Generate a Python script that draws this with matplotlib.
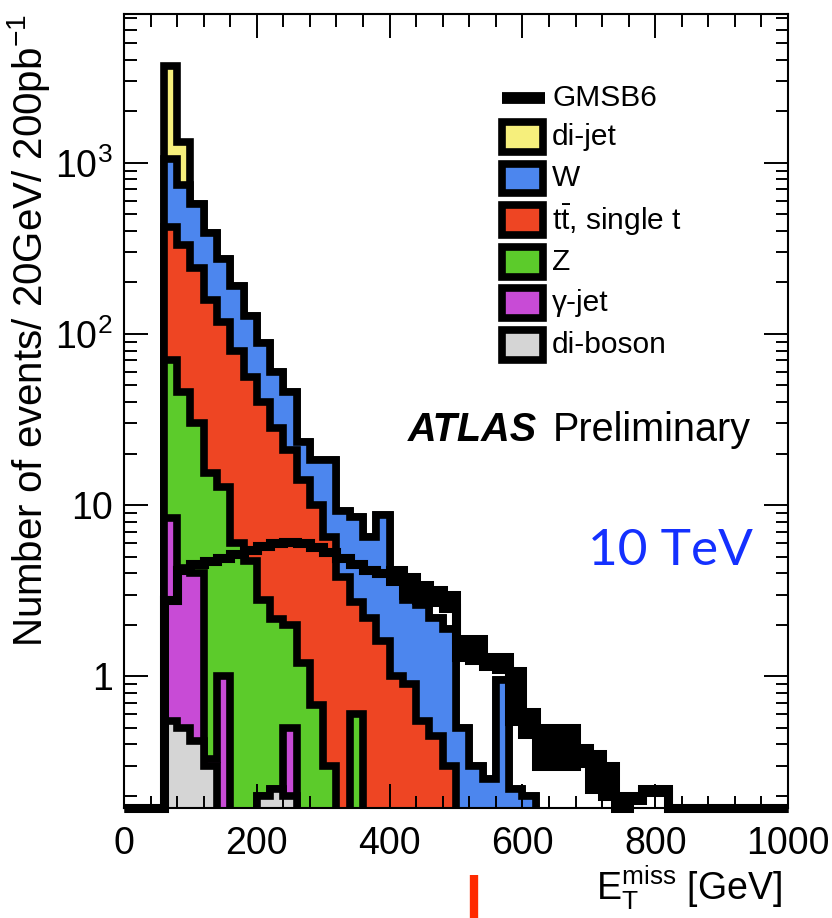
import numpy as np
import matplotlib
matplotlib.use("Agg")
import matplotlib.pyplot as plt
import matplotlib.transforms as mtransforms
from matplotlib.patches import Rectangle
from matplotlib.lines import Line2D
from matplotlib.ticker import (MultipleLocator, LogLocator, FixedLocator,
                               FixedFormatter, NullFormatter)

plt.rcParams["font.family"] = ["Liberation Sans", "DejaVu Sans"]
plt.rcParams["mathtext.fontset"] = "custom"
plt.rcParams["mathtext.rm"] = "Liberation Sans"
plt.rcParams["mathtext.it"] = "Liberation Sans:italic"
plt.rcParams["mathtext.bf"] = "Liberation Sans:bold"

# 20 GeV bins from 0 to 1000 GeV; every series below starts at the 60 GeV bin
bin_edges = np.arange(0, 1001, 20)
series_start = 60

# Standard Model backgrounds (events / 20 GeV / 200 pb^-1)
diboson = [0.55, 0.5, 0.42, 0.3, 0, 0, 0, 0.2, 0.22, 0.2]
gamma_jet = [7.85, 3.8, 3.6, 0.03, 1.0, 0, 0, 0, 0, 0.3]
z_jets = [61.6, 41.7, 26, 15.0, 11.7, 6.0, 4.7, 2.6, 1.93, 1.5,
          1.2, 0.68, 0.3, 0, 0.6]
top = [354, 285, 213, 142, 105, 74, 51, 37, 26, 19,
       12.8, 9.3, 6.2, 3.8, 2.1, 2.2, 1.6, 1.0, 0.9, 0.55,
       0.45, 0.3]
w_jets = [626, 409, 332, 233, 158, 110, 72, 49, 32, 25,
          9.5, 8.3, 11.8, 5.5, 5.8, 4.3, 7.1, 3.0, 1.9, 2.05,
          1.75, 1.6, 0.5, 0.3, 0.25, 0.95, 0.22, 0.2]
dijet = [2650, 590]

# GMSB6 signal, lower / upper edge of its statistical band
gmsb6_low = [2.8, 4.2, 4.5, 4.7, 4.9, 5.2, 5.5, 5.8, 6.0, 6.1,
             6.0, 5.7, 5.3, 4.9, 4.5, 4.2, 4.0, 3.6, 3.0, 2.8,
             2.7, 2.5, 1.3, 1.25, 1.15, 1.1, 0.55, 0.46, 0.3, 0.3,
             0.3, 0.31, 0.22, 0.2, 0.17, 0.19, 0.21, 0.21]
gmsb6_high = [2.8, 4.2, 4.5, 4.7, 4.9, 5.2, 5.5, 5.8, 6.0, 6.1,
              6.0, 5.7, 5.3, 4.9, 4.5, 4.2, 4.0, 4.2, 3.8, 3.4,
              3.2, 3.0, 1.65, 1.65, 1.3, 1.3, 1.08, 0.62, 0.5, 0.5,
              0.5, 0.38, 0.35, 0.3, 0.2, 0.2, 0.22, 0.22]

legend_labels = ["di-jet", "W", r"t$\bar{\mathrm{t}}$, single t", "Z",
                 "\u03b3-jet", "di-boson"]
stack_colors = ["#d5d5d5", "#c84bd6", "#5ccb2b", "#ee4523", "#4c86ee", "#f6ef7c"]

cut_marker_gev = 527

ymin, ymax = 0.17, 7400


def full(series):
    out = np.zeros(len(bin_edges) - 1)
    i0 = series_start // 20
    out[i0:i0 + len(series)] = series
    return out


layers = np.array([full(s) for s in (diboson, gamma_jet, z_jets, top, w_jets, dijet)])
cumulative = np.cumsum(layers, axis=0)

W, H = 832, 918
fig = plt.figure(figsize=(W / 100, H / 100), dpi=100)
ax = fig.add_axes([124 / W, 1 - 808 / H, 664 / W, 794 / H])
ax.set_axisbelow(False)
ax.set_yscale("log")
ax.set_xlim(0, 1000)
ax.set_ylim(ymin, ymax)

tiny = 1e-3
lw_hist = 5.5
z = 1.0
for k in reversed(range(len(layers))):
    vals = np.where(cumulative[k] > 0, cumulative[k], tiny)
    ax.stairs(vals, bin_edges, baseline=tiny, fill=True,
              color=stack_colors[k], linewidth=0, zorder=z)
    outline = ax.stairs(vals, bin_edges, baseline=tiny, fill=False,
                        color="black", linewidth=lw_hist, zorder=z + 0.05)
    outline.set_joinstyle("miter")
    z += 0.15

# signal: black band between its lower and upper edges
lo = np.clip(full(gmsb6_low), ymin, None)
hi = np.clip(full(gmsb6_high), ymin, None)
ax.fill_between(bin_edges, np.append(lo, lo[-1]), np.append(hi, hi[-1]),
                step="post", color="black", linewidth=0, zorder=2.3)
for arr in (lo, hi):
    s = ax.stairs(arr, bin_edges, baseline=None, fill=False, color="black",
                  linewidth=6.5, zorder=2.35, clip_on=False)
    s.set_joinstyle("miter")

# axes, ticks
for sp in ax.spines.values():
    sp.set_linewidth(1.5)
ax.xaxis.set_major_locator(MultipleLocator(200))
ax.xaxis.set_minor_locator(MultipleLocator(40))
ax.yaxis.set_major_locator(FixedLocator([1, 10, 100, 1000]))
ax.yaxis.set_major_formatter(FixedFormatter(["1", "10", r"$10^{2}$", r"$10^{3}$"]))
ax.yaxis.set_minor_locator(LogLocator(base=10, subs=np.arange(2, 10), numticks=30))
ax.yaxis.set_minor_formatter(NullFormatter())
ax.tick_params(which="both", direction="in", top=True, right=True, width=1.4)
ax.tick_params(which="major", length=17, labelsize=27)
ax.tick_params(which="minor", length=9)
ax.tick_params(axis="x", pad=13)
ax.tick_params(axis="y", pad=8)

ax.set_ylabel(r"Number of events/ 20GeV/ 200pb$^{-1}$", fontsize=29, loc="top")
ax.yaxis.set_label_coords((52 - 124) / 664, 1.0)

fig.text(782 / W, 1 - 899 / H, r"$\mathrm{E}_{\mathrm{T}}^{\mathrm{miss}}$ [GeV]",
         fontsize=27, ha="right", va="baseline")


def fx(px):
    return px / W


def fy(py):
    return 1 - py / H


# legend
fig.add_artist(Line2D([fx(502), fx(545)], [fy(98), fy(98)], color="black",
                      linewidth=8.5, solid_capstyle="butt"))
fig.text(fx(552), fy(98), "GMSB6", fontsize=21.5, va="center", ha="left")
legend_colors = stack_colors[::-1]
legend_rows = [137, 178, 220, 262, 303, 345]
for lab, col, yc in zip(legend_labels, legend_colors, legend_rows):
    bw, bh = 41, 29
    fig.add_artist(Rectangle((fx(522.5 - bw / 2), fy(yc + bh / 2)), bw / W, bh / H,
                             facecolor=col, edgecolor="black", linewidth=lw_hist,
                             joinstyle="miter", transform=fig.transFigure))
    fig.text(fx(552), fy(yc), lab, fontsize=21.5, va="center", ha="left")

# labels inside the frame
fig.text(fx(408), fy(441), "ATLAS", fontsize=28.5, fontweight="bold",
         fontstyle="italic", ha="left", va="baseline")
fig.text(fx(553), fy(441), "Preliminary", fontsize=28.5, ha="left", va="baseline")
fig.text(fx(588), fy(565), "10 TeV", fontsize=37, color="#1430ff",
         family=["Lato", "DejaVu Sans"], ha="left", va="baseline")

# marker below the x axis
trans = mtransforms.blended_transform_factory(ax.transData, ax.transAxes)
ax.plot([cut_marker_gev, cut_marker_gev], [(808 - 875) / 794, (808 - 920) / 794],
        transform=trans, color="#ff2a00", linewidth=6, solid_capstyle="butt",
        clip_on=False)

fig.savefig("out.png", dpi=100)
